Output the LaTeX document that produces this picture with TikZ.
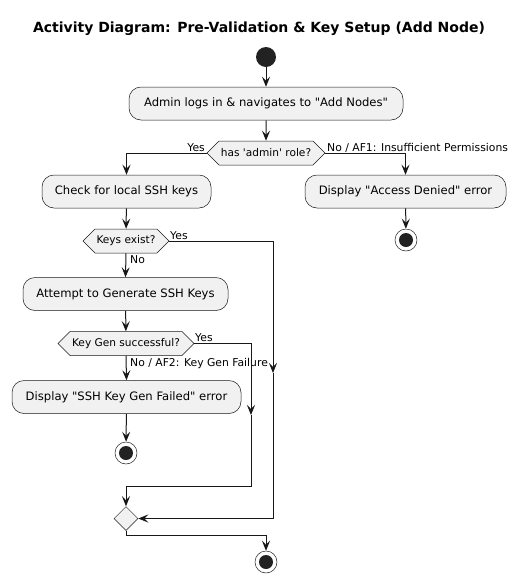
\documentclass[tikz,border=0pt]{standalone}
\usepackage{fontspec}
\setmainfont{DejaVu Sans}
\usetikzlibrary{arrows.meta,shapes.geometric,shapes.symbols}
\definecolor{umlfill}{HTML}{F1F1F1}
\definecolor{umlline}{HTML}{181818}
\definecolor{umldot}{HTML}{222222}

\begin{document}
\begin{tikzpicture}[x=1pt, y=-1pt,
    actbox/.style={rectangle, draw=umlline, line width=0.5pt, fill=umlfill, rounded corners=12pt, minimum height=33pt, inner sep=0pt, font=\fontsize{11.6}{13}\selectfont},
    choice/.style={signal, signal to=east and west, signal pointer angle=90, draw=umlline, line width=0.5pt, fill=umlfill, minimum height=24pt, inner sep=0pt, font=\fontsize{10.6}{12}\selectfont},
    mergebox/.style={diamond, draw=umlline, line width=0.5pt, fill=umlfill, minimum size=24pt, inner sep=0pt},
    startdot/.style={circle, fill=umldot, minimum size=20pt, inner sep=0pt},
    stopdot/.style={circle, draw=umldot, line width=0.5pt, fill=white, minimum size=22pt, inner sep=0pt,
        path picture={\fill[umldot] (path picture bounding box.center) circle (7pt);}},
    guard/.style={font=\fontsize{10.8}{12}\selectfont, inner sep=0pt},
    arrow/.style={-{Stealth[length=10pt, width=8pt, inset=4pt]}, line width=1pt, draw=umlline}
]
    \useasboundingbox (0,0) rectangle (519,582);

    % Title
    \node[font=\fontsize{14}{16}\selectfont\bfseries] (title) at (259,29) {Activity Diagram: Pre-Validation \& Key Setup (Add Node)};

    % Main flow
    \node[startdot] (start) at (266,57) {};
    \node[actbox, minimum width=274pt] (login) at (266,103.5) {Admin logs in \& navigates to \textquotedbl Add Nodes\textquotedbl};
    \node[choice, minimum width=118pt] (isadmin) at (266,153) {has \textquotesingle admin\textquotesingle{} role?};

    % Denied branch
    \node[actbox, minimum width=201pt] (denied) at (405.5,191.5) {Display \textquotedbl Access Denied\textquotedbl{} error};
    \node[stopdot] (stopdenied) at (406,240) {};

    % Key branch
    \node[actbox, minimum width=169pt] (check) at (126.5,191.5) {Check for local SSH keys};
    \node[choice, minimum width=86pt] (keysexist) at (126,241) {Keys exist?};
    \node[actbox, minimum width=205pt] (generate) at (125.5,294) {Attempt to Generate SSH Keys};
    \node[choice, minimum width=136pt] (genok) at (126,343.5) {Key Gen successful?};
    \node[actbox, minimum width=229pt] (genfail) at (126.5,397) {Display \textquotedbl SSH Key Gen Failed\textquotedbl{} error};
    \node[stopdot] (stopfail) at (126,453) {};

    % Merge
    \node[mergebox] (merge) at (126,518.5) {};
    \node[stopdot] (stopend) at (266,562) {};
    \coordinate (keysyes) at (273,373);
    \coordinate (genyes) at (251,415);
    \coordinate (genjoin) at (126,486);

    % Guards
    \node[guard, anchor=base east] (yes1) at (205,151) {Yes};
    \node[guard, anchor=base west] (no1) at (327,151) {No / AF1: Insufficient Permissions};
    \node[guard, anchor=base west] (yes2) at (170,239) {Yes};
    \node[guard, anchor=base west] (no2) at (130,263) {No};
    \node[guard, anchor=base west] (yes3) at (195,341) {Yes};
    \node[guard, anchor=base west] (no3) at (130,366) {No / AF2: Key Gen Failure};

    % Arrows
    \draw[arrow] (start) -- (login);
    \draw[arrow] (login) -- (isadmin);
    \draw[arrow] (isadmin.west) -| (check.north);
    \draw[arrow] (isadmin.east) -| (denied.north);
    \draw[arrow] (denied) -- (stopdenied);
    \draw[arrow] (check) -- (keysexist);
    \draw[arrow] (keysexist.south) -- (generate.north);
    \draw[arrow] (keysexist.east) -| (keysyes);
    \draw[arrow] (keysyes) |- (merge.east);
    \draw[arrow] (generate) -- (genok);
    \draw[arrow] (genok.south) -- (genfail.north);
    \draw[arrow] (genok.east) -| (genyes);
    \draw[arrow] (genyes) |- (genjoin) -- (merge.north);
    \draw[arrow] (genfail) -- (stopfail);
    \draw[arrow] (merge.south) -- ++(0,5) -| (stopend.north);
\end{tikzpicture}
\end{document}
